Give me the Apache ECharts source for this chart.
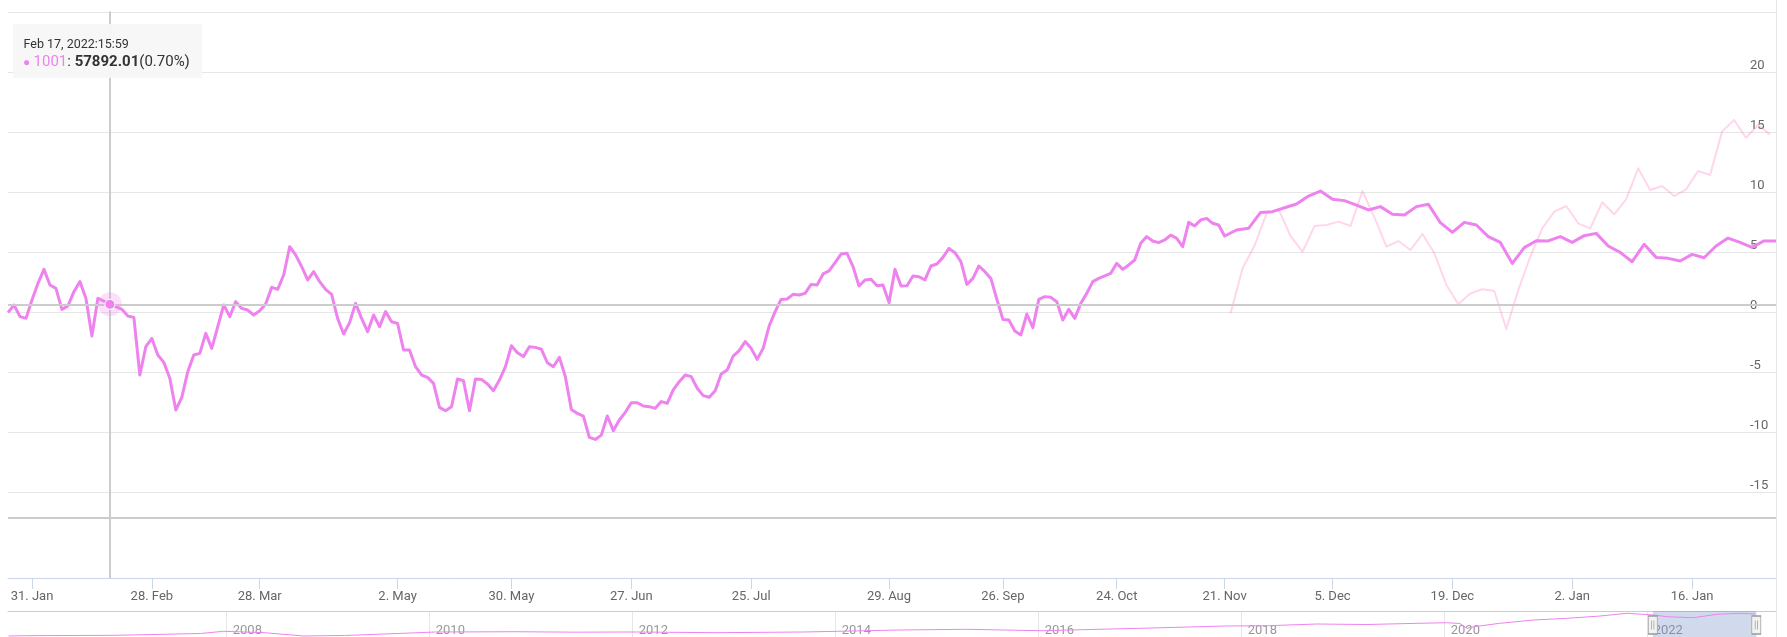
<!DOCTYPE html>
<html>
<head>
<meta charset="utf-8">
<script src="https://cdn.jsdelivr.net/npm/echarts@6/dist/echarts.min.js"></script>
<style>
html,body{margin:0;padding:0;background:#fff;}
#chart{width:1787px;height:637px;}
</style>
</head>
<body>
<div id="chart"></div>
<script>
// ---- DATA ----
const seriesName = '1001';
const tooltipLabel = 'Feb 17, 2022:15:59';
const tooltipPrice = '57892.01';
const hoverIndex = 17;

// main series (% change), one point per ordinal slot, up to 21 Nov
const mainDaily = [
 0.00,0.64,-0.33,-0.47,1.06,2.45,3.61,2.31,2.03,0.28,
 0.56,1.75,2.59,1.20,-1.94,1.20,0.97,0.70,0.50,0.28,
 -0.27,-0.39,-5.19,-2.83,-2.14,-3.53,-4.14,-5.47,-8.11,-7.06,
 -4.91,-3.53,-3.39,-1.72,-2.97,-1.16,0.64,-0.33,0.92,0.36,
 0.22,-0.19,0.17,0.73,2.11,1.95,3.14,5.50,4.81,3.84,
 2.73,3.42,2.59,1.95,1.53,-0.47,-1.77,-0.83,0.78,-0.47,
 -1.58,-0.19,-1.16,0.09,-0.75,-0.89,-3.11,-3.11,-4.50,-5.19,
 -5.39,-5.89,-7.89,-8.17,-7.84,-5.53,-5.67,-8.17,-5.53,-5.56,
 -5.94,-6.50,-5.61,-4.50,-2.75,-3.33,-3.66,-2.83,-2.89,-3.05,
 -4.17,-4.50,-3.72,-5.33,-8.06,-8.39,-8.61,-10.39,-10.56,-10.20,
 -8.61,-9.83,-8.94,-8.30,-7.50,-7.50,-7.78,-7.83,-7.97,-7.41,
 -7.55,-6.44,-5.75,-5.19,-5.33,-6.30,-6.91,-7.05,-6.50,-5.11,
 -4.78,-3.61,-3.16,-2.41,-2.97,-3.89,-2.97,-1.11,0.09,1.11,
 1.14,1.53,1.47,1.61,2.36,2.31,3.23,3.48,4.17,4.89,
 4.95,3.84,2.23,2.73,2.78,2.25,2.31,0.84,3.61,2.23,
 2.25,3.06,3.00,2.73,3.89,4.06,4.61,5.36,5.00,4.25,
 2.36,2.86,3.89,3.42,2.86,1.11,-0.56,-0.61,-1.53,-1.86,
 -0.11,-1.25,1.11,1.34,1.28,0.92,-0.61,0.28,-0.47,0.78,
 1.61,2.59,2.86,3.06,3.28,4.11,3.61,3.98,4.39,5.78,
 6.34,5.98,5.84,6.06,6.47,6.20,5.50,7.53,7.23,7.72,
 7.86,7.45,7.31
];
// main series after 21 Nov (interleaved with the comparison series)
const mainLate = [
 6.39,6.89,7.03,8.36,8.42,8.75,9.06,9.72,10.14,9.45,
 9.34,8.97,8.56,8.84,8.20,8.14,8.84,9.03,7.50,6.70,
 7.53,7.31,6.34,5.86,4.11,5.42,6.00,5.98,6.34,5.86,
 6.42,6.61,5.56,5.03,4.25,5.70,4.61,4.53,4.31,4.86,
 4.58,5.56,6.22,5.86,5.45,5.98,5.98
];
// comparison series (% change), from 21 Nov
const compareLate = [
 -0.05,3.70,5.60,8.28,8.61,6.39,5.08,7.22,7.31,7.59,
 7.22,10.14,7.95,5.50,5.97,5.22,6.56,4.95,2.31,0.70,
 1.61,1.95,1.81,-1.36,1.89,4.67,7.03,8.42,8.89,7.45,
 7.03,9.20,8.20,9.45,12.03,10.22,10.56,9.72,10.28,11.81,
 11.47,15.09,16.06,14.58,15.64,14.86
];
// x-axis tick labels and the ordinal slot each one sits on
const tickLabels = ['31. Jan','28. Feb','28. Mar','2. May','30. May','27. Jun','25. Jul','29. Aug','26. Sep','24. Oct','21. Nov','5. Dec','19. Dec','2. Jan','16. Jan'];
const tickSlots  = [4,24,42,65,84,104,124,147,166,185,203,221,241,261,281];
const yTicks = [-15,-10,-5,0,5,10,15,20];
const yGrid = [-15,-10,-5,0,5,10,15,20,25];

// navigator (long history)
const navYears = [2005.85,2006.03,2006.9,2007.74,2007.97,2008.37,2008.76,2009.16,2009.73,2010.06,
 2010.86,2011.42,2012.04,2012.83,2013.69,2014.02,2014.63,2015.29,2016.03,2017.0,
 2017.85,2018.25,2018.74,2019.23,2019.73,2020.02,2020.15,2020.22,2020.29,2020.54,
 2020.88,2021.2,2021.53,2021.8,2022.06,2022.19,2022.45,2022.68,2022.91,2023.06];
const navValues = [23.5,24.0,24.6,27.4,30.9,28.7,23.5,24.3,27.7,29.8,
 30.2,29.5,29.8,28.7,29.8,30.9,32.9,34.0,31.8,35.6,
 39.2,39.6,42.3,41.5,43.4,44.3,43.1,35.6,38.1,43.4,
 48.6,51.2,54.8,59.1,56.4,53.7,52.2,57.5,59.1,58.0];
const navYearTicks = [2008,2010,2012,2014,2016,2018,2020,2022];
const navRange = [2022.05, 2023.07];

// ---- BUILD ----
const split = mainDaily.length;               // first interleaved slot
const N = split + mainLate.length * 2 - 1;
const cats = [], mainData = [], compData = [];
for (let k = 0; k < N; k++) {
  cats.push(String(k));
  if (k < split) mainData.push(mainDaily[k]);
  else mainData.push((k - split) % 2 === 0 ? mainLate[(k - split) / 2] : null);
  const c = k - split - 1;
  compData.push(c >= 0 && c % 2 === 0 ? compareLate[c / 2] : null);
}
const labelMap = {};
tickSlots.forEach((s, i) => { labelMap[s] = tickLabels[i]; });
const isTick = (idx) => labelMap[idx] !== undefined;
const navData = navYears.map((y, i) => [y, navValues[i]]);
const hoverVal = mainDaily[hoverIndex];
const FONT = 'Roboto';

const chart = echarts.init(document.getElementById('chart'), null, {renderer: 'canvas'});
chart.setOption({
  animation: false,
  textStyle: {fontFamily: FONT},
  grid: [
    {left: 8, right: 11, top: 11.5, bottom: 59, outerBoundsMode: 'none'},
    {left: 8, right: 11, top: 611, bottom: -14, outerBoundsMode: 'none'}
  ],
  xAxis: [
    {
      type: 'category', gridIndex: 0, data: cats, boundaryGap: false,
      axisLine: {show: true, onZero: false, lineStyle: {color: '#ccd6eb', width: 1}},
      axisTick: {show: true, interval: isTick, length: 11, lineStyle: {color: '#ccd6eb'}},
      axisLabel: {interval: isTick, formatter: (v, i) => labelMap[i] || '', color: '#666',
                  fontSize: 13, fontFamily: FONT, margin: 12},
      splitLine: {show: false}
    },
    {
      type: 'value', gridIndex: 1, position: 'top', min: 2005.845, max: 2023.264,
      axisLine: {show: true, onZero: false, lineStyle: {color: '#cccccc', width: 1}},
      axisTick: {show: false, customValues: navYearTicks},
      splitLine: {show: true, lineStyle: {color: '#e6e6e6', width: 1}},
      axisLabel: {inside: true, customValues: navYearTicks, formatter: (v) => String(Math.round(v)),
                  align: 'left', verticalAlign: 'top',
                  padding: [0, 0, 0, 6], margin: 13, color: '#999', fontSize: 13, fontFamily: FONT}
    }
  ],
  yAxis: [
    {
      type: 'value', gridIndex: 0, position: 'right', min: -22.108, max: 25.1,
      axisLine: {show: false, onZero: false},
      axisTick: {show: false, customValues: yGrid},
      splitLine: {show: true, lineStyle: {color: '#e6e6e6', width: 1}},
      axisLabel: {inside: true, customValues: yTicks, align: 'left', verticalAlign: 'bottom',
                  margin: 26, color: '#666', fontSize: 13, fontFamily: FONT}
    },
    {type: 'value', gridIndex: 1, min: 0, max: 62.7, show: false}
  ],
  series: [
    {
      name: 'compare', type: 'line', xAxisIndex: 0, yAxisIndex: 0, data: compData,
      connectNulls: true, showSymbol: false, symbol: 'none', z: 2,
      lineStyle: {color: 'rgba(255,105,180,0.27)', width: 2, join: 'round'}
    },
    {
      name: seriesName, type: 'line', xAxisIndex: 0, yAxisIndex: 0, data: mainData,
      connectNulls: true, showSymbol: false, symbol: 'none', z: 3,
      lineStyle: {color: '#ee82ee', width: 3, join: 'round'},
      markLine: {
        silent: true, symbol: 'none', label: {show: false},
        lineStyle: {color: '#cccccc', width: 2, type: 'solid'},
        data: [{xAxis: String(hoverIndex)}, {yAxis: hoverVal}, {yAxis: -17.08}]
      },
      markPoint: {
        silent: true, label: {show: false},
        data: [
          {coord: [String(hoverIndex), hoverVal], symbol: 'circle', symbolSize: 24,
           itemStyle: {color: 'rgba(238,130,238,0.25)'}},
          {coord: [String(hoverIndex), hoverVal], symbol: 'circle', symbolSize: 10,
           itemStyle: {color: '#ee82ee', borderColor: '#ffffff', borderWidth: 1}}
        ]
      }
    },
    {
      name: 'navigator', type: 'line', xAxisIndex: 1, yAxisIndex: 1, data: navData,
      showSymbol: false, symbol: 'none', z: 3,
      lineStyle: {color: '#ee82ee', width: 1},
      markArea: {
        silent: true,
        itemStyle: {color: 'rgba(102,133,194,0.3)'},
        data: [[{xAxis: navRange[0]}, {xAxis: navRange[1]}]]
      },
      markPoint: {
        silent: true, label: {show: false},
        symbol: 'path://M0,0 L8,0 L8,16 L0,16 Z M3,4 L3,12 M5,4 L5,12',
        symbolSize: [9, 18],
        itemStyle: {color: '#f2f2f2', borderColor: '#999999', borderWidth: 1},
        data: [{coord: [navRange[0], 40.8]}, {coord: [navRange[1], 40.8]}]
      }
    }
  ],
  graphic: [
    {type: 'line', z: 50, shape: {x1: 1776.5, y1: 0, x2: 1776.5, y2: 637},
     style: {stroke: '#e6e6e6', lineWidth: 1}},
    {type: 'rect', z: 100, shape: {x: 13, y: 24, width: 189, height: 54},
     style: {fill: 'rgba(247,247,247,0.95)'}},
    {type: 'text', z: 101, x: 23.5, y: 44.5,
     style: {text: tooltipLabel, fill: '#333', font: '12.5px ' + FONT, verticalAlign: 'middle'}},
    {type: 'text', z: 101, x: 23, y: 62.5,
     style: {
       text: '{d|●} {n|' + seriesName + '}{p|: }{b|' + tooltipPrice + '}{p|(' + hoverVal.toFixed(2) + '%)}',
       verticalAlign: 'middle',
       rich: {
         d: {fill: '#ee82ee', fontSize: 12, fontFamily: FONT},
         n: {fill: '#ee82ee', fontSize: 15, fontFamily: FONT},
         p: {fill: '#333', fontSize: 15, fontFamily: FONT},
         b: {fill: '#333', fontSize: 15, fontWeight: 'bold', fontFamily: FONT}
       }
     }}
  ]
});
</script>
</body>
</html>
